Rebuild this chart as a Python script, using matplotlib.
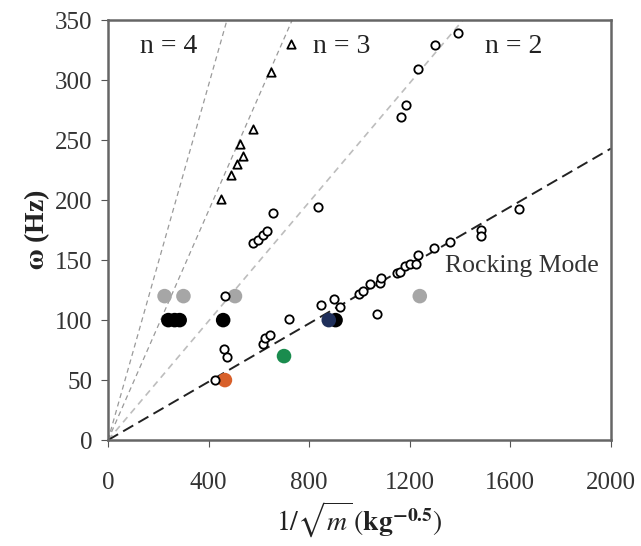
import matplotlib
matplotlib.use("Agg")
import matplotlib.pyplot as plt
import numpy as np

plt.rcParams['font.family'] = ['Liberation Serif', 'DejaVu Serif']
plt.rcParams['mathtext.fontset'] = 'stix'

# rocking mode (n = 2) measurements, open circles
n2_x = [425, 461, 472, 465, 618, 624, 644, 721, 846, 900, 922, 1000, 1015, 1042,
        1081, 1085, 1071, 1148, 1160, 1180, 1200, 1225, 1232, 1295, 1360, 1485,
        1485, 1635]
n2_y = [50, 76, 69, 120, 80, 85, 88, 101, 113, 118, 111, 122, 124, 130,
        131, 135, 105, 139, 140, 145, 147, 147, 154, 160, 165, 175,
        170, 193]

# n = 3 branch, open circles
n3c_x = [578, 598, 617, 632, 657, 834, 1165, 1185, 1234, 1300, 1393]
n3c_y = [164, 167, 171, 174, 189, 194, 269, 279, 309, 329, 339]

# n = 3 branch, triangles
n3t_x = [448, 490, 513, 526, 538, 575, 650, 726]
n3t_y = [201, 221, 230, 247, 237, 259, 307, 330]

# filled reference points
grey_x = [225, 300, 505, 1240]
grey_y = [120, 120, 120, 120]
black_x = [240, 265, 285, 458, 905]
black_y = [100, 100, 100, 100, 100]
navy_x = [878]
navy_y = [100]
orange_x = [465]
orange_y = [50]
green_x = [700]
green_y = [70]

# slopes of the guide lines (Hz per kg^-0.5)
slope_n2 = 0.1215
slope_n3c = 0.248
slope_n3t = 0.478
slope_n4 = 0.74

fig = plt.figure(figsize=(6.41, 5.46), dpi=100)
ax = fig.add_axes([0.1685, 0.194, 0.7845, 0.769])

xx = np.array([0, 2000])
ax.plot(xx, slope_n4 * xx, ls=(0, (4, 3)), color='#9a9a9a', lw=0.9, zorder=1)
ax.plot(xx, slope_n3t * xx, ls=(0, (4, 3)), color='#9a9a9a', lw=0.9, zorder=1)
ax.plot(xx, slope_n3c * xx, ls=(0, (4, 3)), color='#bdbdbd', lw=1.2, zorder=1)
ax.plot(xx, slope_n2 * xx, ls=(0, (6, 3)), color='#222222', lw=1.4, zorder=1)

ax.scatter(grey_x, grey_y, s=110, color='#a6a6a6', edgecolors='none', zorder=2)
ax.scatter(black_x, black_y, s=110, color='black', edgecolors='none', zorder=2)
ax.scatter(navy_x, navy_y, s=110, color='#1f2f5a', edgecolors='none', zorder=2)
ax.scatter(orange_x, orange_y, s=110, color='#d8602a', edgecolors='none', zorder=2)
ax.scatter(green_x, green_y, s=110, color='#1a8c4e', edgecolors='none', zorder=2)

ax.scatter(n2_x, n2_y, s=36, marker='o', facecolors='white', edgecolors='black',
           linewidths=1.3, zorder=3)
ax.scatter(n3c_x, n3c_y, s=36, marker='o', facecolors='white', edgecolors='black',
           linewidths=1.3, zorder=3)
ax.scatter(n3t_x, n3t_y, s=36, marker='^', facecolors='white', edgecolors='black',
           linewidths=1.3, zorder=3)

ax.text(127, 328, 'n = 4', fontsize=20, color='#222222', va='center')
ax.text(815, 328, 'n = 3', fontsize=20, color='#222222', va='center')
ax.text(1500, 328, 'n = 2', fontsize=20, color='#222222', va='center')
ax.text(1340, 145, 'Rocking Mode', fontsize=18.5, color='#333333', va='center')

ax.set_xlim(0, 2000)
ax.set_ylim(0, 350)
ax.set_xticks([0, 400, 800, 1200, 1600, 2000])
ax.set_yticks(range(0, 351, 50))
ax.tick_params(labelsize=18, length=5, width=0.8, colors='#555555',
               labelcolor='#333333', pad=6)
ax.tick_params(axis='x', pad=18)
for sp in ax.spines.values():
    sp.set_linewidth(1.8)
    sp.set_color('#666666')

ax.set_xlabel(r'$1/\sqrt{m}\,(\mathbf{kg}^{\mathbf{-0.5}})$', fontsize=20,
              color='#222222', labelpad=4)
ax.set_ylabel(r'$\mathbf{\omega}$ (Hz)', fontsize=20, fontweight='bold',
              color='#222222', labelpad=2)

fig.savefig('out.png', dpi=100)
